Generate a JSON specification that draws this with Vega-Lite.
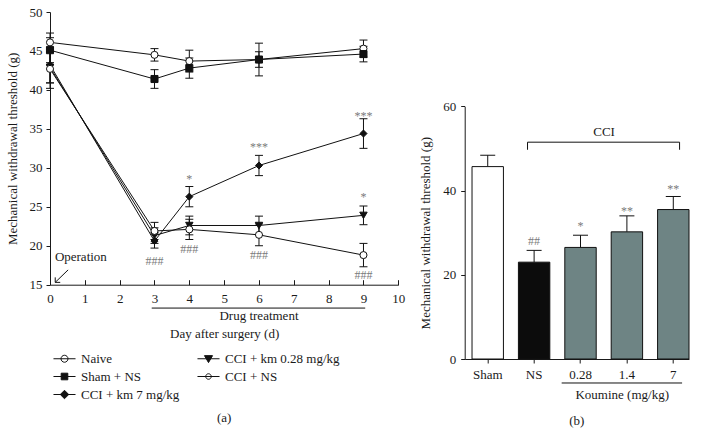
{
  "$schema": "https://vega.github.io/schema/vega-lite/v6.json",
  "background": "white",
  "padding": {"left": 6, "top": 6, "right": 5, "bottom": 5},
  "bounds": "flush",
  "spacing": 65.7,
  "resolve": {"scale": {"fill": "independent", "shape": "independent", "color": "independent"}, "legend": {"fill": "independent", "shape": "independent", "color": "independent"}},
  "config": {
    "font": "Liberation Serif",
    "view": {"stroke": null},
    "axis": {"grid": false, "domainColor": "#1a1a1a", "tickColor": "#1a1a1a", "labelColor": "#1a1a1a", "titleColor": "#1a1a1a", "labelFont": "Liberation Serif", "titleFont": "Liberation Serif", "labelFontSize": 13, "titleFontSize": 13, "titleFontWeight": "normal", "domainWidth": 1, "tickWidth": 1, "labelFlush": false, "labelBound": false},
    "axisQuantitative": {"labelOverlap": false, "labelSeparation": -100},
    "legend": {"labelFont": "Liberation Serif", "labelFontSize": 13, "labelColor": "#1a1a1a"},
    "text": {"font": "Liberation Serif"},
    "title": {"font": "Liberation Serif", "fontWeight": "normal", "fontSize": 13, "color": "#1a1a1a"}
  },
  "datasets": {
    "series": [
      {"group": "Naive", "day": 0, "v": 46.1, "lo": 44.9, "hi": 47.3, "above": "", "below": ""},
      {"group": "Naive", "day": 3, "v": 44.5, "lo": 43.7, "hi": 45.3, "above": "", "below": ""},
      {"group": "Naive", "day": 4, "v": 43.7, "lo": 42.3, "hi": 45.1, "above": "", "below": ""},
      {"group": "Naive", "day": 6, "v": 43.9, "lo": 42.9, "hi": 44.9, "above": "", "below": ""},
      {"group": "Naive", "day": 9, "v": 45.3, "lo": 44.2, "hi": 46.4, "above": "", "below": ""},
      {"group": "Sham + NS", "day": 0, "v": 45.1, "lo": 43.5, "hi": 46.7, "above": "", "below": ""},
      {"group": "Sham + NS", "day": 3, "v": 41.4, "lo": 40.2, "hi": 42.6, "above": "", "below": ""},
      {"group": "Sham + NS", "day": 4, "v": 42.8, "lo": 41.5, "hi": 44.1, "above": "", "below": ""},
      {"group": "Sham + NS", "day": 6, "v": 43.9, "lo": 41.8, "hi": 46.0, "above": "", "below": ""},
      {"group": "Sham + NS", "day": 9, "v": 44.6, "lo": 43.6, "hi": 45.6, "above": "", "below": ""},
      {"group": "CCI + km 7 mg/kg", "day": 0, "v": 43.2, "lo": 40.9, "hi": 45.5, "above": "", "below": ""},
      {"group": "CCI + km 7 mg/kg", "day": 3, "v": 20.6, "lo": 19.7, "hi": 21.5, "above": "", "below": "###"},
      {"group": "CCI + km 7 mg/kg", "day": 4, "v": 26.3, "lo": 25.0, "hi": 27.6, "above": "*", "below": ""},
      {"group": "CCI + km 7 mg/kg", "day": 6, "v": 30.3, "lo": 29.0, "hi": 31.6, "above": "***", "below": ""},
      {"group": "CCI + km 7 mg/kg", "day": 9, "v": 34.4, "lo": 32.5, "hi": 36.3, "above": "***", "below": ""},
      {"group": "CCI + km 0.28 mg/kg", "day": 0, "v": 42.9, "lo": 40.9, "hi": 44.9, "above": "", "below": ""},
      {"group": "CCI + km 0.28 mg/kg", "day": 3, "v": 21.3, "lo": 20.3, "hi": 22.3, "above": "", "below": ""},
      {"group": "CCI + km 0.28 mg/kg", "day": 4, "v": 22.6, "lo": 21.4, "hi": 23.8, "above": "", "below": ""},
      {"group": "CCI + km 0.28 mg/kg", "day": 6, "v": 22.6, "lo": 21.4, "hi": 23.8, "above": "", "below": ""},
      {"group": "CCI + km 0.28 mg/kg", "day": 9, "v": 23.9, "lo": 22.7, "hi": 25.1, "above": "*", "below": ""},
      {"group": "CCI + NS", "day": 0, "v": 42.7, "lo": 40.2, "hi": 45.2, "above": "", "below": ""},
      {"group": "CCI + NS", "day": 3, "v": 21.9, "lo": 20.8, "hi": 23.0, "above": "", "below": ""},
      {"group": "CCI + NS", "day": 4, "v": 22.1, "lo": 20.8, "hi": 23.4, "above": "", "below": "###"},
      {"group": "CCI + NS", "day": 6, "v": 21.4, "lo": 20.0, "hi": 22.8, "above": "", "below": "###"},
      {"group": "CCI + NS", "day": 9, "v": 18.8, "lo": 17.3, "hi": 20.3, "above": "", "below": "###"}
    ],
    "bars": [
      {"cond": "Sham", "v": 45.7, "hi": 48.4, "sig": ""},
      {"cond": "NS", "v": 23.0, "hi": 25.8, "sig": "##"},
      {"cond": "0.28", "v": 26.5, "hi": 29.4, "sig": "*"},
      {"cond": "1.4", "v": 30.2, "hi": 34.0, "sig": "**"},
      {"cond": "7", "v": 35.5, "hi": 38.6, "sig": "**"}
    ]
  },
  "hconcat": [
    {
      "width": 348.3,
      "height": 272.7,
      "title": {"text": "(a)", "orient": "bottom", "anchor": "middle", "offset": 10},
      "data": {"name": "series"},
      "layer": [
        {
          "mark": {"type": "line", "color": "#111", "strokeWidth": 1},
          "encoding": {
            "x": {"field": "day", "type": "quantitative", "scale": {"domain": [0, 10], "nice": false, "zero": false},
                  "axis": {"values": [0,1,2,3,4,5,6,7,8,9,10], "tickCount": 11, "format": "d", "tickSize": -5, "labelPadding": 13, "labelOverlap": false, "labelSeparation": -100, "labelBound": false, "title": "Day after surgery (d)", "titlePadding": 22}},
            "y": {"field": "v", "type": "quantitative", "scale": {"domain": [15, 50], "nice": false, "zero": false},
                  "axis": {"values": [15,20,25,30,35,40,45,50], "tickCount": 8, "tickSize": 4, "labelPadding": 4, "labelOverlap": false, "labelSeparation": -100, "labelBound": false, "title": "Mechanical withdrawal threshold (g)", "titlePadding": 10}},
            "detail": {"field": "group"}
          }
        },
        {
          "mark": {"type": "rule", "color": "#111", "strokeWidth": 1},
          "encoding": {
            "x": {"field": "day", "type": "quantitative"},
            "y": {"field": "lo", "type": "quantitative"},
            "y2": {"field": "hi"}
          }
        },
        {
          "mark": {"type": "rule", "color": "#111", "strokeWidth": 1, "xOffset": -4, "x2Offset": 4},
          "encoding": {
            "x": {"field": "day", "type": "quantitative"},
            "x2": {"field": "day"},
            "y": {"field": "lo", "type": "quantitative"}
          }
        },
        {
          "mark": {"type": "rule", "color": "#111", "strokeWidth": 1, "xOffset": -4, "x2Offset": 4},
          "encoding": {
            "x": {"field": "day", "type": "quantitative"},
            "x2": {"field": "day"},
            "y": {"field": "hi", "type": "quantitative"}
          }
        },
        {
          "transform": [{"filter": {"field": "group", "equal": "Naive"}}],
          "mark": {"type": "point", "shape": "circle", "filled": true, "fill": "white", "stroke": "#111", "strokeWidth": 1, "size": 50, "opacity": 1},
          "encoding": {"x": {"field": "day", "type": "quantitative"}, "y": {"field": "v", "type": "quantitative"}}
        },
        {
          "transform": [{"filter": {"field": "group", "equal": "Sham + NS"}}],
          "mark": {"type": "point", "shape": "square", "filled": true, "fill": "#111", "stroke": "#111", "strokeWidth": 1, "size": 50, "opacity": 1},
          "encoding": {"x": {"field": "day", "type": "quantitative"}, "y": {"field": "v", "type": "quantitative"}}
        },
        {
          "transform": [{"filter": {"field": "group", "equal": "CCI + km 7 mg/kg"}}],
          "mark": {"type": "point", "shape": "diamond", "filled": true, "fill": "#111", "stroke": "#111", "strokeWidth": 1, "size": 50, "opacity": 1},
          "encoding": {"x": {"field": "day", "type": "quantitative"}, "y": {"field": "v", "type": "quantitative"}}
        },
        {
          "transform": [{"filter": {"field": "group", "equal": "CCI + km 0.28 mg/kg"}}],
          "mark": {"type": "point", "shape": "triangle-down", "filled": true, "fill": "#111", "stroke": "#111", "strokeWidth": 1, "size": 55, "opacity": 1},
          "encoding": {"x": {"field": "day", "type": "quantitative"}, "y": {"field": "v", "type": "quantitative"}}
        },
        {
          "transform": [{"filter": {"field": "group", "equal": "CCI + NS"}}],
          "mark": {"type": "point", "shape": "circle", "filled": true, "fill": "white", "stroke": "#111", "strokeWidth": 1, "size": 50, "opacity": 1},
          "encoding": {"x": {"field": "day", "type": "quantitative"}, "y": {"field": "v", "type": "quantitative"}}
        },
        {
          "transform": [{"filter": {"field": "day", "lt": 0}}],
          "mark": {"type": "point", "filled": true, "stroke": "#111", "strokeWidth": 1, "opacity": 1},
          "encoding": {
            "x": {"field": "day", "type": "quantitative"},
            "y": {"field": "v", "type": "quantitative"},
            "shape": {"field": "group", "type": "nominal",
                      "scale": {"domain": ["Naive", "CCI + km 0.28 mg/kg", "Sham + NS", "CCI + NS", "CCI + km 7 mg/kg"],
                                "range": ["M-3,0L3,0M0.95,0A0.95,0.95,0,1,1,-0.95,0A0.95,0.95,0,1,1,0.95,0",
                                          "M-3,0L3,0M-1.1,-0.85L1.1,-0.85L0,1.05Z",
                                          "M-3,0L3,0M-0.9,-0.9L0.9,-0.9L0.9,0.9L-0.9,0.9Z",
                                          "M-3,0L3,0M0.75,0A0.75,0.75,0,1,1,-0.75,0A0.75,0.75,0,1,1,0.75,0",
                                          "M-3,0L3,0M0,-1.15L1.15,0L0,1.15L-1.15,0Z"]},
                      "legend": {"title": null, "orient": "none", "legendX": 8, "legendY": 340, "columns": 2, "direction": "horizontal", "symbolSize": 54, "symbolStrokeWidth": 1, "symbolStrokeColor": "#111", "symbolOpacity": 1, "labelOffset": 10, "columnPadding": 15, "rowPadding": 4, "padding": 0,
                                 "encode": {"symbols": {"update": {"stroke": {"value": "#111"}, "strokeWidth": {"value": 1}, "opacity": {"value": 1}}}}}},
            "fill": {"field": "group", "type": "nominal",
                     "scale": {"domain": ["Naive", "CCI + km 0.28 mg/kg", "Sham + NS", "CCI + NS", "CCI + km 7 mg/kg"],
                               "range": ["white", "#111", "#111", "white", "#111"]},
                     "legend": {"title": null, "orient": "none", "legendX": 8, "legendY": 340, "columns": 2, "direction": "horizontal", "symbolSize": 54, "symbolStrokeWidth": 1, "symbolStrokeColor": "#111", "symbolOpacity": 1, "labelOffset": 10, "columnPadding": 15, "rowPadding": 4, "padding": 0,
                                "encode": {"symbols": {"update": {"stroke": {"value": "#111"}, "strokeWidth": {"value": 1}, "opacity": {"value": 1}}}}}}
          }
        },
        {
          "mark": {"type": "text", "baseline": "middle", "align": "center", "fontSize": 12, "fill": "#7a7a7a", "yOffset": -18},
          "encoding": {
            "x": {"field": "day", "type": "quantitative"},
            "y": {"field": "v", "type": "quantitative"},
            "text": {"field": "above"}
          }
        },
        {
          "mark": {"type": "text", "baseline": "middle", "align": "center", "fontSize": 12, "fill": "#7a7a7a", "yOffset": 20},
          "encoding": {
            "x": {"field": "day", "type": "quantitative"},
            "y": {"field": "v", "type": "quantitative"},
            "text": {"field": "below"}
          }
        },
        {
          "data": {"values": [{"day": 2.92, "day2": 9.05, "v": 12.0}]},
          "mark": {"type": "rule", "color": "#111", "strokeWidth": 1},
          "encoding": {
            "x": {"field": "day", "type": "quantitative"},
            "x2": {"field": "day2"},
            "y": {"field": "v", "type": "quantitative"}
          }
        },
        {
          "data": {"values": [{"day": 6, "v": 10.93, "label": "Drug treatment"}]},
          "mark": {"type": "text", "baseline": "middle", "align": "center", "fontSize": 13, "fill": "#1a1a1a"},
          "encoding": {
            "x": {"field": "day", "type": "quantitative"},
            "y": {"field": "v", "type": "quantitative"},
            "text": {"field": "label"}
          }
        },
        {
          "data": {"values": [{"day": 0.14, "v": 18.6, "label": "Operation"}]},
          "mark": {"type": "text", "baseline": "middle", "align": "left", "fontSize": 13, "fill": "#1a1a1a"},
          "encoding": {
            "x": {"field": "day", "type": "quantitative"},
            "y": {"field": "v", "type": "quantitative"},
            "text": {"field": "label"}
          }
        },
        {
          "data": {"values": [{"day": 0.52, "day2": 0.15, "v": 16.9, "v2": 15.3}]},
          "mark": {"type": "rule", "color": "#111", "strokeWidth": 1},
          "encoding": {
            "x": {"field": "day", "type": "quantitative"},
            "x2": {"field": "day2"},
            "y": {"field": "v", "type": "quantitative"},
            "y2": {"field": "v2"}
          }
        },
        {
          "data": {"values": [{"day": 0.15, "v": 15.3}]},
          "mark": {"type": "point", "shape": "M0,-1L0,0L1,0", "size": 100, "filled": false, "stroke": "#111", "strokeWidth": 1, "opacity": 1},
          "encoding": {
            "x": {"field": "day", "type": "quantitative"},
            "y": {"field": "v", "type": "quantitative"}
          }
        }
      ]
    },
    {
      "width": 224.3,
      "height": 347,
      "title": {"text": "(b)", "orient": "bottom", "anchor": "middle", "offset": 13},
      "data": {"name": "bars"},
      "layer": [
        {
          "mark": {"type": "rule", "color": "#111", "strokeWidth": 1},
          "encoding": {
            "x": {"field": "cond", "type": "nominal", "scale": {"domain": ["Sham", "NS", "0.28", "1.4", "7"], "paddingInner": 0.323, "paddingOuter": 0.079, "align": 1},
                  "axis": {"labelAngle": 0, "tickSize": 4, "labelPadding": 5, "title": null}},
            "y": {"field": "v", "type": "quantitative", "scale": {"domain": [0, 60], "nice": false, "range": [347, 94.4]},
                  "axis": {"values": [0, 20, 40, 60], "tickSize": 4, "labelPadding": 5, "title": "Mechanical withdrawal threshold (g)", "titlePadding": 10}},
            "y2": {"field": "hi"}
          }
        },
        {
          "mark": {"type": "rule", "color": "#111", "strokeWidth": 1, "xOffset": -7.5, "x2Offset": 7.5},
          "encoding": {
            "x": {"field": "cond", "type": "nominal"},
            "x2": {"field": "cond"},
            "y": {"field": "hi", "type": "quantitative"}
          }
        },
        {
          "mark": {"type": "bar", "stroke": "#111", "strokeWidth": 1, "opacity": 1},
          "encoding": {
            "x": {"field": "cond", "type": "nominal"},
            "y": {"field": "v", "type": "quantitative"},
            "color": {"field": "cond", "type": "nominal", "legend": null,
                      "scale": {"domain": ["Sham", "NS", "0.28", "1.4", "7"], "range": ["white", "#0c0c0c", "#6e8484", "#6e8484", "#6e8484"]}}
          }
        },
        {
          "mark": {"type": "text", "baseline": "middle", "align": "center", "fontSize": 12, "fill": "#7a7a7a", "yOffset": -21},
          "encoding": {
            "x": {"field": "cond", "type": "nominal"},
            "y": {"field": "v", "type": "quantitative"},
            "text": {"field": "sig"}
          }
        },
        {
          "data": {"values": [{"cond": "NS", "to": "7", "v": 51.5}]},
          "mark": {"type": "rule", "color": "#111", "strokeWidth": 1},
          "encoding": {
            "x": {"field": "cond", "type": "nominal", "bandPosition": 0.29},
            "x2": {"field": "to", "bandPosition": 0.7},
            "y": {"field": "v", "type": "quantitative"}
          }
        },
        {
          "data": {"values": [{"cond": "NS", "v": 51.5, "v2": 49.7}]},
          "mark": {"type": "rule", "color": "#111", "strokeWidth": 1},
          "encoding": {
            "x": {"field": "cond", "type": "nominal", "bandPosition": 0.29},
            "y": {"field": "v", "type": "quantitative"},
            "y2": {"field": "v2"}
          }
        },
        {
          "data": {"values": [{"cond": "7", "v": 51.5, "v2": 49.7}]},
          "mark": {"type": "rule", "color": "#111", "strokeWidth": 1},
          "encoding": {
            "x": {"field": "cond", "type": "nominal", "bandPosition": 0.7},
            "y": {"field": "v", "type": "quantitative"},
            "y2": {"field": "v2"}
          }
        },
        {
          "data": {"values": [{"cond": "0.28", "v": 54.0, "label": "CCI"}]},
          "mark": {"type": "text", "baseline": "middle", "align": "center", "fontSize": 13, "fill": "#1a1a1a"},
          "encoding": {
            "x": {"field": "cond", "type": "nominal", "bandPosition": 1.25},
            "y": {"field": "v", "type": "quantitative"},
            "text": {"field": "label"}
          }
        },
        {
          "data": {"values": [{"cond": "0.28", "to": "7", "v": -5.7}]},
          "mark": {"type": "rule", "color": "#111", "strokeWidth": 1},
          "encoding": {
            "x": {"field": "cond", "type": "nominal", "bandPosition": -0.1},
            "x2": {"field": "to", "bandPosition": 0.78},
            "y": {"field": "v", "type": "quantitative"}
          }
        },
        {
          "data": {"values": [{"cond": "1.4", "v": -8.5, "label": "Koumine (mg/kg)"}]},
          "mark": {"type": "text", "baseline": "middle", "align": "center", "fontSize": 13, "fill": "#1a1a1a"},
          "encoding": {
            "x": {"field": "cond", "type": "nominal", "bandPosition": 0.35},
            "y": {"field": "v", "type": "quantitative"},
            "text": {"field": "label"}
          }
        }
      ]
    }
  ]
}
